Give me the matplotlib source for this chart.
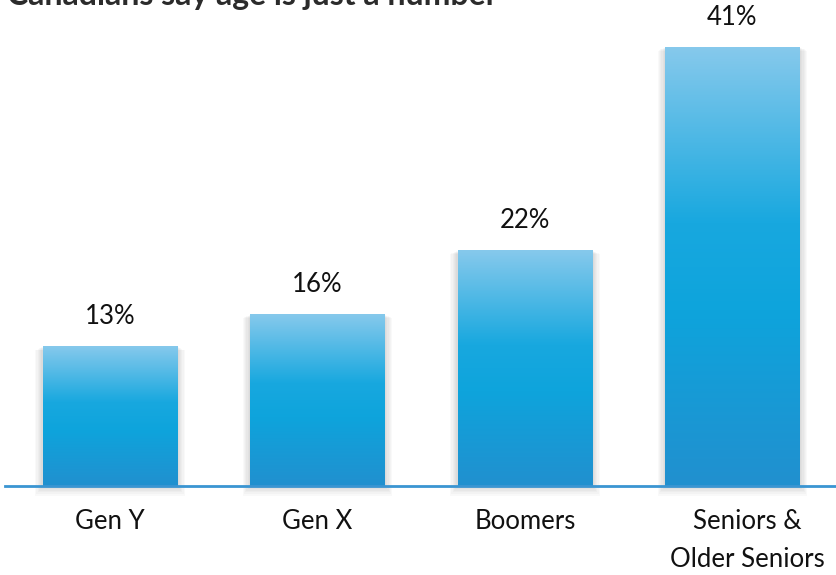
import numpy as np
import matplotlib.pyplot as plt
from matplotlib.colors import LinearSegmentedColormap
from matplotlib.patches import Rectangle

categories = ["Gen Y", "Gen X", "Boomers", "Seniors &\nOlder Seniors"]
values = [13, 16, 22, 41]
labels = ["13%", "16%", "22%", "41%"]
title = "Canadians say age is just a number"

plt.rcParams['font.family'] = ['Lato', 'DejaVu Sans']

fig = plt.figure(figsize=(8.36, 5.75), dpi=100)
ax = fig.add_axes([0, 0, 1, 1])
ax.set_xlim(-0.530, 3.499)
ax.set_ylim(-8.32, 45.42)
ax.axis('off')

# gradient top light -> bright cyan -> deeper blue at bottom
cmap = LinearSegmentedColormap.from_list(
    "bar", [(0.0, "#2190cf"), (0.4, "#0ea4dc"), (0.6, "#18a8df"), (1.0, "#86c9ec")])
grad = np.linspace(0, 1, 256).reshape(-1, 1)

w = 0.65
x = np.arange(len(values))
for i, v in zip(x, values):
    # soft shadow
    for k in range(6):
        pad = 0.006 * (k + 1)
        ax.add_patch(Rectangle((i - w / 2 - pad, -0.15 * (k + 1)), w + 2 * pad, v + 0.1 * (k + 1),
                               color='black', alpha=0.025, lw=0, zorder=1))
    ax.imshow(grad, extent=[i - w / 2, i + w / 2, 0, v], origin='lower',
              aspect='auto', cmap=cmap, zorder=2)
    ax.annotate(labels[i], (i, v), xytext=(0, 30), textcoords='offset pixels',
                ha='center', va='center', fontsize=18.5, color='#111111')
    ax.text(i + (0.07 if i == 3 else 0), -2.15, categories[i], ha='center', va='top',
            fontsize=18.5, color='#111111', linespacing=1.65)

ax.axhline(0, xmin=0.006, xmax=1, color='#3a95d2', lw=2, zorder=3)

fig.text(0.008, 0.991, title, ha='left', va='baseline', fontsize=23,
         fontweight='bold', color='#2b2b2b')

fig.savefig("out.png", dpi=100)
